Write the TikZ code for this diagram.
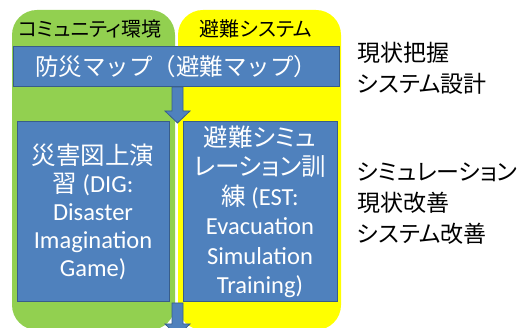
\documentclass[tikz,border=0pt]{standalone}
\usepackage{fontspec}
\setmainfont{Carlito}
\newfontfamily\jp[RawFeature=+palt]{Noto Sans CJK JP}
\newfontfamily\jpw{Noto Sans CJK JP}
\usetikzlibrary{calc}
\definecolor{pgreen}{HTML}{92D050}
\definecolor{pyellow}{HTML}{FFFF00}
\definecolor{bfill}{HTML}{4F81BD}
\definecolor{bline}{HTML}{385D8A}
\tikzset{
  panel/.style={rounded corners=25pt, inner sep=0pt, minimum width=163pt, minimum height=320pt},
  bluebox/.style={draw=bline, line width=1pt, fill=bfill, text=white, inner sep=0pt, align=center},
  header/.style={font=\jp\fontsize{20}{22}\selectfont, text=black, inner sep=0pt},
  note/.style={font=\jp\fontsize{23}{31}\selectfont, text=black, inner sep=0pt, align=left},
  blockarrow/.style={draw=bline, line width=0.8pt, fill=bfill, line join=miter}
}
\begin{document}
\begin{tikzpicture}[x=1pt,y=-1pt]
\useasboundingbox (0,0) rectangle (525,328);
\clip (0,0) rectangle (525,328);
\node[panel, fill=pgreen] (gpanel) at (93.5,170) {};
\node[panel, fill=pyellow] (ypanel) at (259.5,170) {};
\node[header] (ghead) at (90,28.5) {コミュニティ環境};
\node[header] (yhead) at (256,28.5) {避難システム};
\node[bluebox, minimum width=326pt, minimum height=40pt, font=\jpw\fontsize{23.5}{26}\selectfont] (top) at (176,67) {防災マップ（避難マップ）};
\node[bluebox, minimum width=152pt, minimum height=180pt, font=\fontsize{24.5}{28}\selectfont] (dig) at (93,212)
  {{\jp 災害図上演}\\{\jp 習} (DIG:\\Disaster\\Imagination\\Game)};
\node[bluebox, minimum width=154pt, minimum height=180pt, font=\fontsize{24.5}{29.5}\selectfont] (est) at (260,212)
  {{\jp 避難シミュ}\\{\jp レーション訓}\\{\jp 練} (EST:\\Evacuation\\Simulation\\Training)};
\coordinate (a1) at (177.5,87);
\coordinate (a2) at (177.5,123);
\draw[blockarrow] ($(a1)+(-5.5,0)$) -- ($(a1)+(5.5,0)$) -- ($(a2)+(5.5,-12)$) -- ($(a2)+(12.5,-12)$) -- (a2) -- ($(a2)+(-12.5,-12)$) -- ($(a2)+(-5.5,-12)$) -- cycle;
\coordinate (b1) at (177.5,303);
\coordinate (b2) at (177.5,336);
\draw[blockarrow] ($(b1)+(-5.5,0)$) -- ($(b1)+(5.5,0)$) -- ($(b2)+(5.5,-12)$) -- ($(b2)+(12.5,-12)$) -- (b2) -- ($(b2)+(-12.5,-12)$) -- ($(b2)+(-5.5,-12)$) -- cycle;
\node[note, anchor=north west] (n1) at (357,42) {現状把握\\システム設計};
\node[note, anchor=north west] (n2) at (357,163) {シミュレーション\\現状改善\\システム改善};
\end{tikzpicture}
\end{document}
